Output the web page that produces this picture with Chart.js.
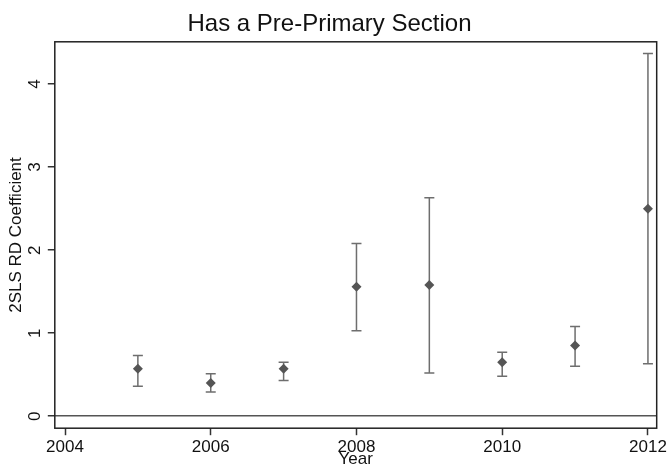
<!DOCTYPE html>
<html>
<head>
<meta charset="utf-8">
<script src="https://cdn.jsdelivr.net/npm/chart.js@4"></script>
<style>
  html, body { margin: 0; padding: 0; background: #fff; }
  #wrap { width: 669px; height: 470px; }
</style>
</head>
<body>
<div id="wrap"><canvas id="rdChart"></canvas></div>
<script>
const years = [2005, 2006, 2007, 2008, 2009, 2010, 2011, 2012];
const coef  = [0.57, 0.40, 0.57, 1.56, 1.58, 0.65, 0.85, 2.50];
const lower = [0.36, 0.29, 0.43, 1.03, 0.52, 0.48, 0.60, 0.63];
const upper = [0.73, 0.51, 0.65, 2.08, 2.63, 0.77, 1.08, 4.37];
const xTicks = [2004, 2006, 2008, 2010, 2012];
const yTicks = [0, 1, 2, 3, 4];

// error bars with caps, drawn under the markers
const errorBars = {
    id: 'errorBars',
    beforeDatasetsDraw(chart) {
        const c = chart.ctx, xs = chart.scales.x, ys = chart.scales.y;
        c.save();
        c.strokeStyle = '#6e6e6e';
        c.lineWidth = 1.5;
        years.forEach((yr, i) => {
            const px = xs.getPixelForValue(yr);
            const lo = ys.getPixelForValue(lower[i]);
            const hi = ys.getPixelForValue(upper[i]);
            c.beginPath();
            c.moveTo(px, lo); c.lineTo(px, hi);
            c.moveTo(px - 5, lo); c.lineTo(px + 5, lo);
            c.moveTo(px - 5, hi); c.lineTo(px + 5, hi);
            c.stroke();
        });
        c.restore();
    }
};

// box around the plot region
const plotBox = {
    id: 'plotBox',
    afterDraw(chart) {
        const a = chart.chartArea, c = chart.ctx;
        c.save();
        c.strokeStyle = '#222';
        c.lineWidth = 1.5;
        c.strokeRect(a.left, a.top, a.right - a.left, a.bottom - a.top);
        c.restore();
    }
};

const font = size => ({ family: 'Liberation Sans', size: size, weight: 'normal' });

const ctx = document.getElementById('rdChart').getContext('2d');
new Chart(ctx, {
    type: 'scatter',
    data: {
        datasets: [{
            data: years.map((y, i) => ({ x: y, y: coef[i] })),
            pointStyle: 'rectRot',
            radius: 5,
            backgroundColor: '#555',
            borderColor: '#555',
            borderWidth: 0
        }]
    },
    options: {
        responsive: true,
        maintainAspectRatio: false,
        animation: false,
        layout: { padding: { top: 0, right: 10, bottom: 0, left: 0 } },
        plugins: {
            legend: { display: false },
            tooltip: { enabled: false },
            title: {
                display: true,
                text: 'Has a Pre-Primary Section',
                color: '#111',
                font: font(24),
                padding: { top: 10, bottom: 3 }
            }
        },
        scales: {
            x: {
                type: 'linear',
                min: 2003.86,
                max: 2012.12,
                afterBuildTicks: s => { s.ticks = xTicks.map(v => ({ value: v })); },
                ticks: {
                    color: '#111',
                    font: font(17),
                    padding: 2,
                    maxRotation: 0,
                    callback: v => String(v)
                },
                grid: { drawOnChartArea: false, tickLength: 7, tickColor: '#333', tickWidth: 1.5 },
                border: { display: false },
                title: {
                    display: true,
                    text: 'Year',
                    color: '#111',
                    font: font(17),
                    padding: { top: -10, bottom: 0 }
                }
            },
            y: {
                min: -0.145,
                max: 4.51,
                afterBuildTicks: s => { s.ticks = yTicks.map(v => ({ value: v })); },
                ticks: {
                    color: '#111',
                    font: font(17),
                    minRotation: 90,
                    maxRotation: 90,
                    crossAlign: 'center',
                    padding: 8
                },
                grid: {
                    drawOnChartArea: true,
                    color: c => c.tick && c.tick.value === 0 ? '#555' : 'rgba(0,0,0,0)',
                    lineWidth: 1.5,
                    tickLength: 7,
                    tickColor: '#333',
                    tickWidth: 1.5
                },
                border: { display: false },
                title: {
                    display: true,
                    text: '2SLS RD Coefficient',
                    color: '#111',
                    font: font(17),
                    padding: { top: 6, bottom: -15 }
                }
            }
        }
    },
    plugins: [errorBars, plotBox]
});
</script>
</body>
</html>
